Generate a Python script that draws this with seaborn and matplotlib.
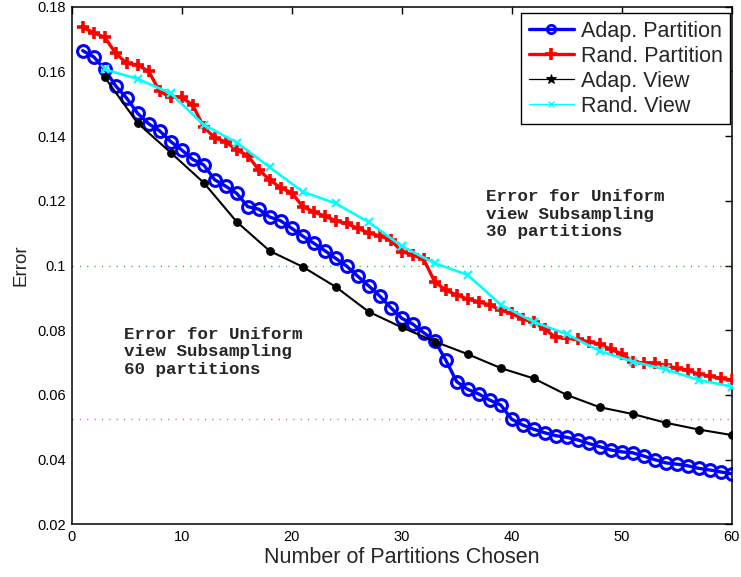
import numpy as np
import pandas as pd
import matplotlib
matplotlib.use("Agg")
import matplotlib.pyplot as plt
import seaborn as sns
from matplotlib.lines import Line2D
from matplotlib.ticker import FuncFormatter, MultipleLocator

# ---------------- data ----------------
x_partition = list(range(1, 61))
adap_partition = [0.1664, 0.1645, 0.1606, 0.1555, 0.1517, 0.1470, 0.1438, 0.1416, 0.1383, 0.1357,
                  0.1328, 0.1311, 0.1265, 0.1245, 0.1223, 0.1182, 0.1174, 0.1150, 0.1138, 0.1115,
                  0.1091, 0.1069, 0.1046, 0.1022, 0.0998, 0.0967, 0.0937, 0.0906, 0.0870, 0.0837,
                  0.0819, 0.0792, 0.0768, 0.0708, 0.0641, 0.0617, 0.0603, 0.0584, 0.0569, 0.0525,
                  0.0507, 0.0494, 0.0483, 0.0474, 0.0469, 0.0461, 0.0450, 0.0440, 0.0430, 0.0424,
                  0.0421, 0.0411, 0.0400, 0.0390, 0.0386, 0.0381, 0.0373, 0.0368, 0.0362, 0.0356]
rand_partition = [0.1736, 0.1720, 0.1705, 0.1656, 0.1625, 0.1620, 0.1600, 0.1538, 0.1520, 0.1520,
                  0.1496, 0.1428, 0.1395, 0.1382, 0.1357, 0.1340, 0.1296, 0.1265, 0.1240, 0.1225,
                  0.1182, 0.1166, 0.1153, 0.1138, 0.1130, 0.1115, 0.1101, 0.1091, 0.1080, 0.1043,
                  0.1033, 0.1019, 0.0950, 0.0924, 0.0909, 0.0896, 0.0888, 0.0878, 0.0862, 0.0852,
                  0.0834, 0.0826, 0.0803, 0.0778, 0.0775, 0.0772, 0.0764, 0.0757, 0.0741, 0.0727,
                  0.0703, 0.0698, 0.0698, 0.0692, 0.0682, 0.0677, 0.0664, 0.0658, 0.0651, 0.0646]
x_view = list(range(3, 61, 3))
adap_view = [0.1582, 0.1440, 0.1349, 0.1256, 0.1135, 0.1045, 0.0996, 0.0934, 0.0857, 0.0809,
             0.0765, 0.0726, 0.0683, 0.0651, 0.0600, 0.0562, 0.0541, 0.0514, 0.0493, 0.0476]
rand_view = [0.1606, 0.1577, 0.1532, 0.1435, 0.1380, 0.1304, 0.1228, 0.1192, 0.1134, 0.1060,
             0.1007, 0.0971, 0.0879, 0.0826, 0.0788, 0.0736, 0.0703, 0.0679, 0.0646, 0.0626]

uniform_30 = 0.100
uniform_60 = 0.0527

series_names = ["Adap. Partition", "Rand. Partition", "Adap. View", "Rand. View"]
x_label = "Number of Partitions Chosen"
y_label = "Error"
note_30 = "Error for Uniform\nview Subsampling\n30 partitions"
note_60 = "Error for Uniform\nview Subsampling\n60 partitions"

# ---------------- figure ----------------
sns.set_style("white")
plt.rcParams["font.family"] = ["Liberation Sans", "DejaVu Sans"]

fig = plt.figure(figsize=(7.41, 5.77), dpi=100)
ax = fig.add_axes([0.0968, 0.0913, 0.8906, 0.8971])

df_p = pd.DataFrame({"x": x_partition, "ap": adap_partition, "rp": rand_partition})
df_v = pd.DataFrame({"x": x_view, "av": adap_view, "rv": rand_view})

CYAN = (0.0, 1.0, 1.0)

# reference lines
ax.axhline(uniform_30, color=(0.2, 0.62, 0.2), lw=1.0, ls=(0, (0.8, 4.5)), zorder=1)
ax.axhline(uniform_60, color=(1.0, 0.2, 1.0), lw=1.0, ls=(0, (0.8, 4.5)), zorder=1)

sns.lineplot(data=df_p, x="x", y="ap", ax=ax, color="blue", linewidth=2.4, linestyle="-",
             marker="o", markersize=8.5, markeredgewidth=2.2,
             markerfacecolor="none", markeredgecolor="blue",
             estimator=None, sort=False, zorder=2)
sns.lineplot(data=df_p, x="x", y="rp", ax=ax, color="red", linewidth=2.4, linestyle="-",
             marker="+", markersize=8, markeredgewidth=2.6, markeredgecolor="red",
             estimator=None, sort=False, zorder=3)
sns.lineplot(data=df_v, x="x", y="av", ax=ax, color="black", linewidth=1.5, linestyle="-",
             marker="o", markersize=5.5, markeredgecolor="black", markerfacecolor="black",
             markeredgewidth=0.8, estimator=None, sort=False, zorder=4)
sns.lineplot(data=df_v, x="x", y="rv", ax=ax, color=CYAN, linewidth=1.9,
             linestyle="-", marker="x", markersize=6, markeredgewidth=1.6,
             markeredgecolor=CYAN, estimator=None, sort=False, zorder=5)

# axes styling
ax.set_xlim(0, 60)
ax.set_ylim(0.02, 0.18)
ax.xaxis.set_major_locator(MultipleLocator(10))
ax.yaxis.set_major_locator(MultipleLocator(0.02))
ax.yaxis.set_major_formatter(FuncFormatter(lambda v, p: ("%g" % round(v, 4))))
ax.tick_params(direction="in", length=5, width=1, top=True, right=True,
               labelsize=10.5, colors="black", pad=4)
for s in ax.spines.values():
    s.set_color("black")
    s.set_linewidth(1.1)
ax.set_xlabel(x_label, fontsize=15.5, labelpad=2)
ax.set_ylabel(y_label, fontsize=13.5, labelpad=6)

mono = ["Liberation Mono", "DejaVu Sans Mono"]
ax.text(37.66, 0.1159, note_30, family=mono, fontweight="bold", fontsize=12.6,
        va="center", ha="left", linespacing=1.18, zorder=6)
ax.text(4.75, 0.0733, note_60, family=mono, fontweight="bold", fontsize=12.6,
        va="center", ha="left", linespacing=1.18, zorder=6)

handles = [
    Line2D([], [], color="blue", lw=2.4, marker="o", markersize=6, markeredgewidth=2,
           markerfacecolor="none"),
    Line2D([], [], color="red", lw=2.4, marker="+", markersize=8, markeredgewidth=2.6),
    Line2D([], [], color="black", lw=0.9, marker="*", markersize=7, markeredgewidth=0.6),
    Line2D([], [], color=CYAN, lw=0.9, marker="x", markersize=5, markeredgewidth=1.0),
]
leg = ax.legend(handles, series_names, loc="upper right", bbox_to_anchor=(0.9974, 0.987),
                fontsize=15.5, frameon=True, fancybox=False, edgecolor="black",
                borderpad=0.35, labelspacing=0.18, handlelength=2.1, handletextpad=0.3,
                borderaxespad=0.0)
leg.set_zorder(10)
leg.get_frame().set_linewidth(1.0)
leg.get_frame().set_alpha(1)

fig.savefig("out.png", dpi=100)
